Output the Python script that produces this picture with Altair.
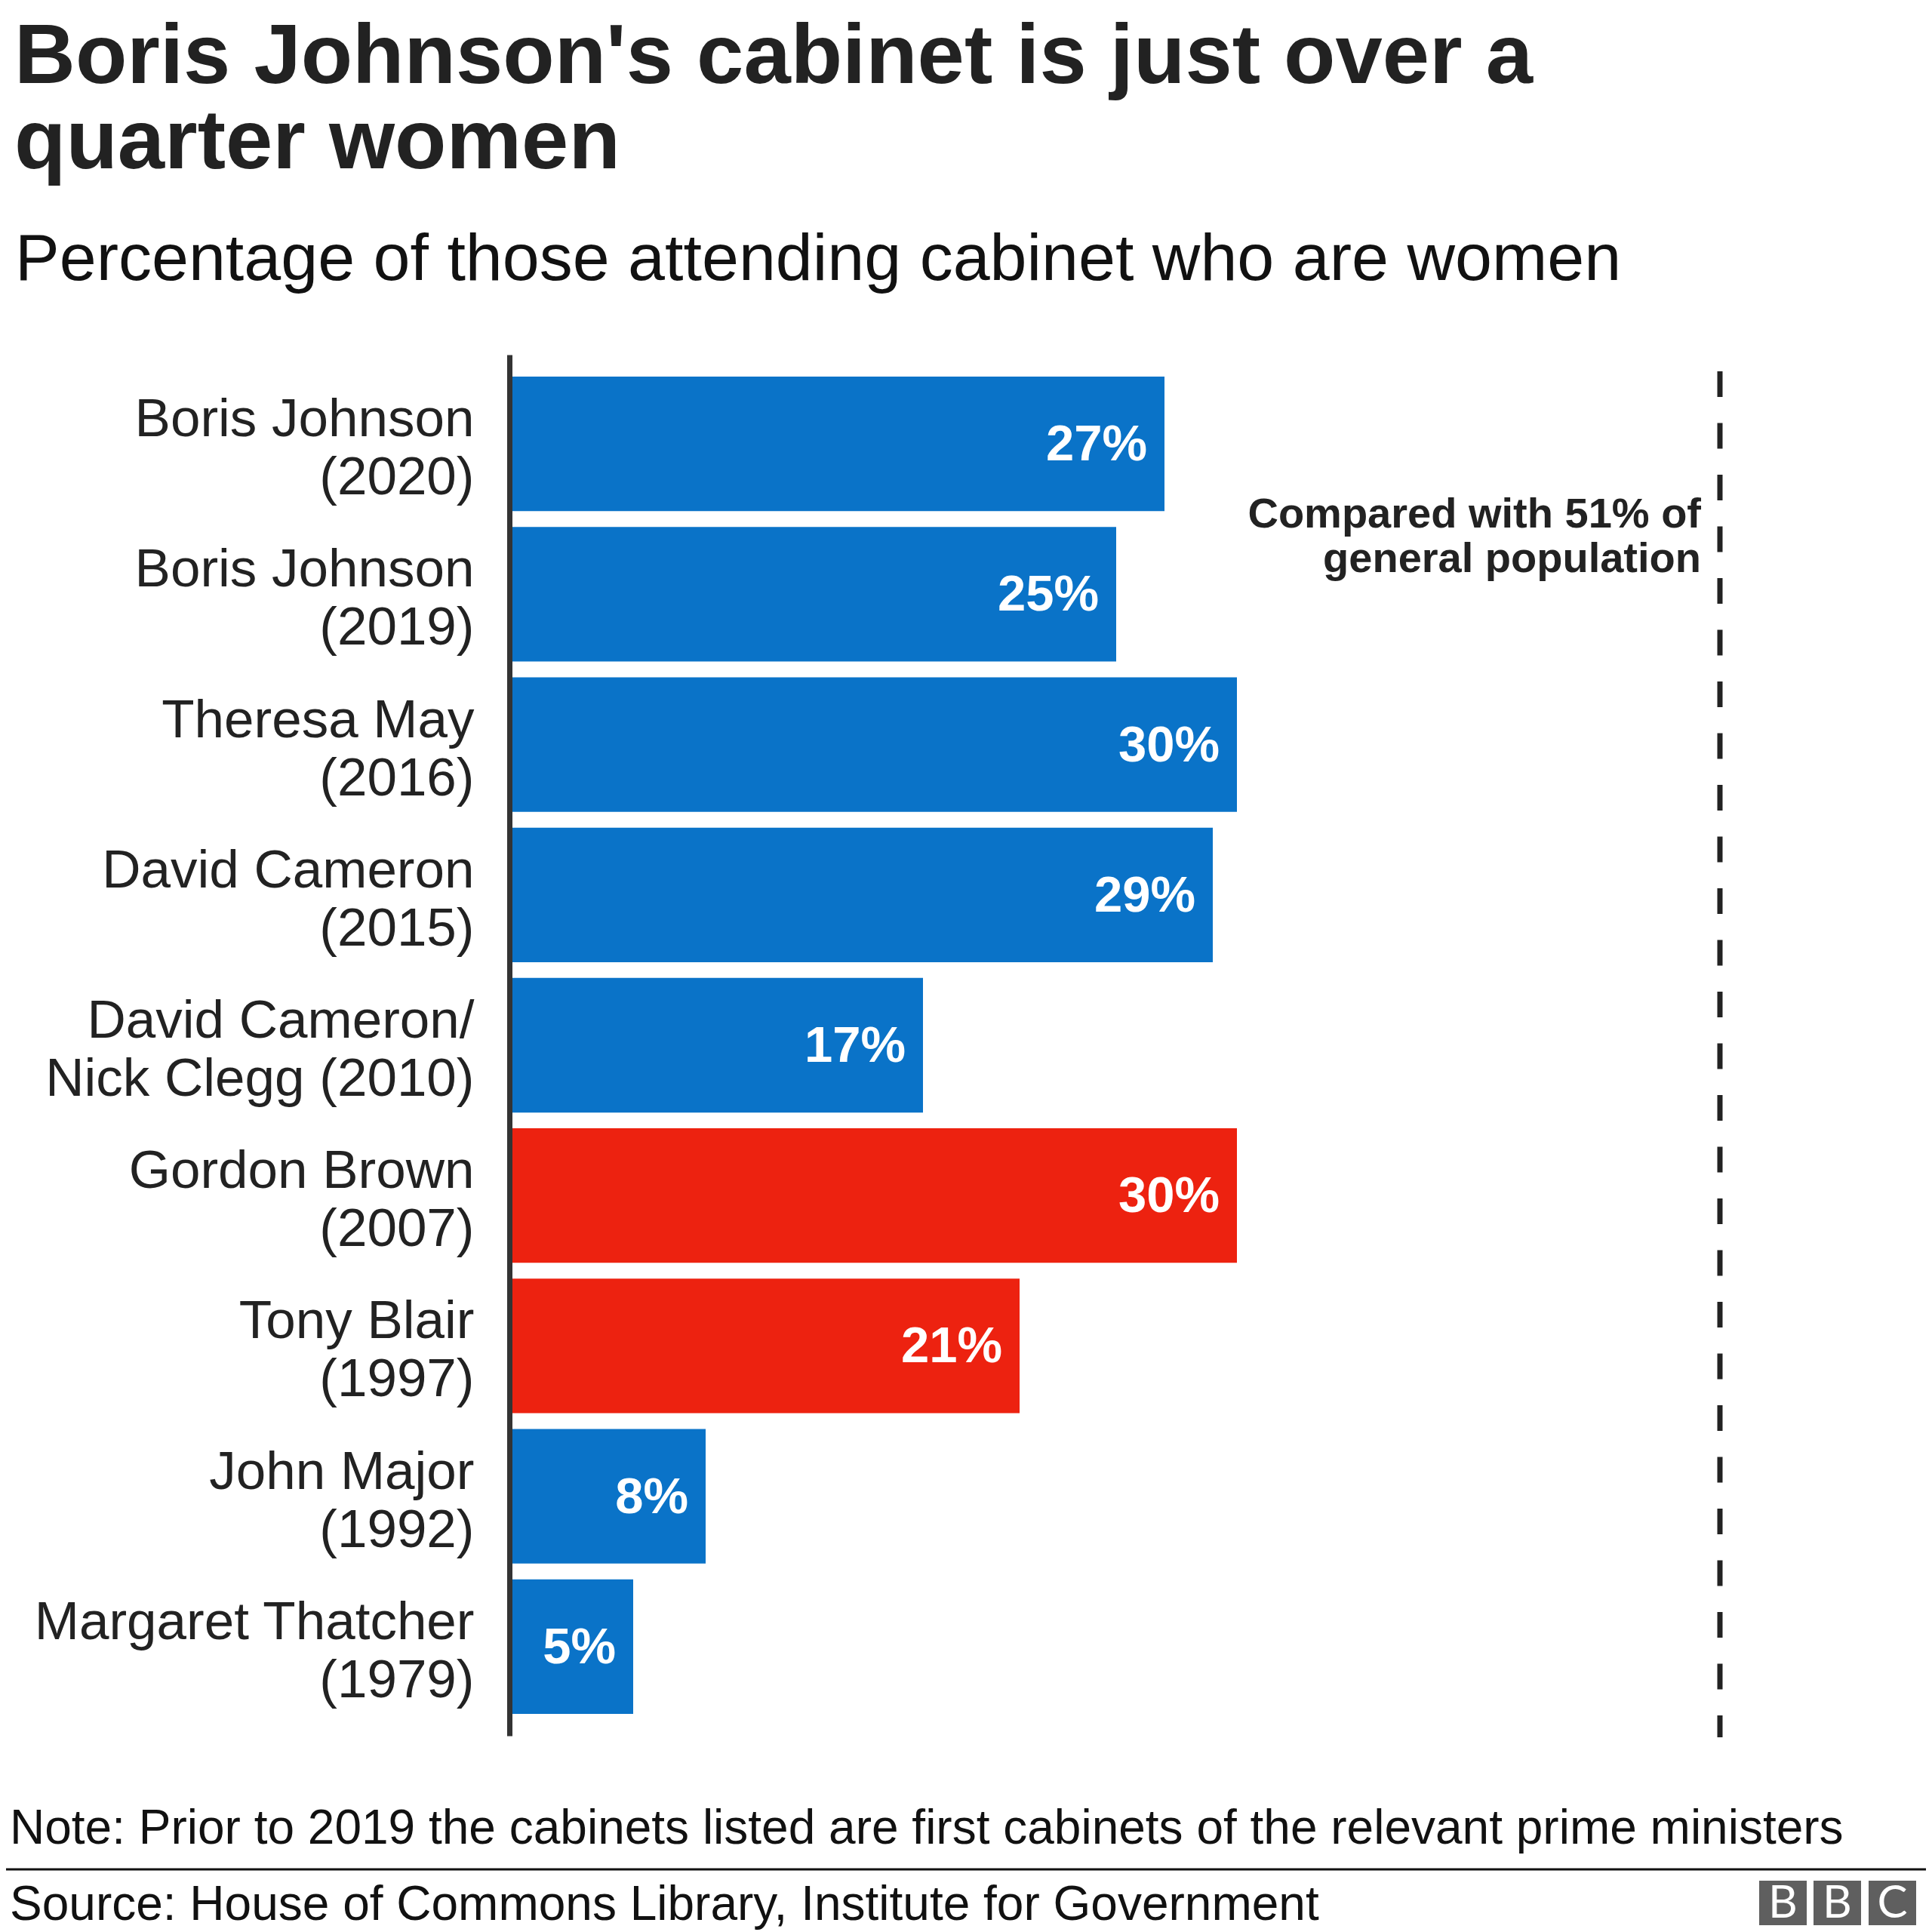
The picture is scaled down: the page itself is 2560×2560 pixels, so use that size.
import altair as alt
import pandas as pd

# ---- data ----
labels = [
    "Boris Johnson|(2020)",
    "Boris Johnson|(2019)",
    "Theresa May|(2016)",
    "David Cameron|(2015)",
    "David Cameron/|Nick Clegg (2010)",
    "Gordon Brown|(2007)",
    "Tony Blair|(1997)",
    "John Major|(1992)",
    "Margaret Thatcher|(1979)",
]
values = [27, 25, 30, 29, 17, 30, 21, 8, 5]
party = ["Conservative", "Conservative", "Conservative", "Conservative", "Conservative",
         "Labour", "Labour", "Conservative", "Conservative"]
reference_line = [50]  # dashed reference line as drawn
annotation_lines = ["Compared with 51% of", "general population"]

title_lines = ["Boris Johnson's cabinet is just over a", "quarter women"]
subtitle_text = "Percentage of those attending cabinet who are women"
note_text = "Note: Prior to 2019 the cabinets listed are first cabinets of the relevant prime ministers"
source_text = "Source: House of Commons Library, Institute for Government"
logo_letters = ["B", "B", "C"]

FONT = "Liberation Sans"
BLUE = "#0a73c8"
RED = "#ed2210"
INK = "#222222"

df = pd.DataFrame({"pm": labels, "pct": values, "party": party})
df["lbl"] = df["pct"].astype(str) + "%"
one = pd.DataFrame({"k": [0]})
ref_df = pd.DataFrame({"ref": reference_line})

x_scale = alt.Scale(domain=[0, 55])
x_enc = alt.X("pct:Q", scale=x_scale, axis=None)
y_enc = alt.Y(
    "pm:N",
    sort=labels,
    title=None,
    scale=alt.Scale(paddingInner=0.105, paddingOuter=0.146),
    axis=alt.Axis(
        labelExpr="split(datum.label, '|')",
        labelFont=FONT,
        labelFontSize=71,
        labelLineHeight=77,
        labelColor=INK,
        labelPadding=47,
        labelAlign="right",
        labelBaseline="middle",
        labelOffset=-31,
        labelLimit=0,
        ticks=False,
        tickSize=0,
        grid=False,
        domain=True,
        domainColor="#333333",
        domainWidth=7,
        offset=4,
    ),
)

bars = alt.Chart(df).mark_bar().encode(
    x=x_enc,
    y=y_enc,
    color=alt.Color(
        "party:N",
        scale=alt.Scale(domain=["Conservative", "Labour"], range=[BLUE, RED]),
        legend=None,
    ),
)

bar_text = alt.Chart(df).mark_text(
    align="right", baseline="middle", dx=-23, dy=2,
    font=FONT, fontWeight="bold", fontSize=67, color="white",
).encode(x=x_enc, y=alt.Y("pm:N", sort=labels), text="lbl:N")

ref_rule = alt.Chart(ref_df).mark_rule(
    color=INK, strokeWidth=7, strokeDash=[34, 34.5]
).encode(x=alt.X("ref:Q", scale=x_scale), y=alt.value(22), y2=alt.value(1832))

annot = alt.Chart(ref_df).mark_text(
    text=annotation_lines, align="right", baseline="alphabetic", dx=-25,
    font=FONT, fontWeight="bold", fontSize=56, lineHeight=59, color=INK,
).encode(x=alt.X("ref:Q", scale=x_scale), y=alt.value(229))

title_t = alt.Chart(one).mark_text(
    text=title_lines, align="left", baseline="alphabetic",
    font=FONT, fontWeight="bold", fontSize=112, lineHeight=113, color=INK,
).encode(x=alt.value(-660), y=alt.value(-360))

subtitle_t = alt.Chart(one).mark_text(
    text=subtitle_text, align="left", baseline="alphabetic",
    font=FONT, fontSize=88, color="#111111",
).encode(x=alt.value(-659), y=alt.value(-99))

note_t = alt.Chart(one).mark_text(
    text=note_text, align="left", baseline="alphabetic",
    font=FONT, fontSize=64, color="#111111",
).encode(x=alt.value(-666), y=alt.value(1973))

sep = alt.Chart(one).mark_rule(color="#111111", strokeWidth=3).encode(
    x=alt.value(-671), x2=alt.value(1873), y=alt.value(2007)
)

source_t = alt.Chart(one).mark_text(
    text=source_text, align="left", baseline="alphabetic",
    font=FONT, fontSize=64, color="#111111",
).encode(x=alt.value(-666), y=alt.value(2074))

logo_layers = []
box_lefts = [1652, 1724, 1797]
for left, letter in zip(box_lefts, logo_letters):
    logo_layers.append(
        alt.Chart(one).mark_rect(color="#5f5f5f").encode(
            x=alt.value(left), x2=alt.value(left + 63), y=alt.value(2022), y2=alt.value(2081)
        )
    )
    logo_layers.append(
        alt.Chart(one).mark_text(
            text=letter, align="center", baseline="middle", font="Lato",
            fontSize=60, color="white",
        ).encode(x=alt.value(left + 31.5), y=alt.value(2053))
    )

chart = alt.layer(
    bars, bar_text, ref_rule, annot, title_t, subtitle_t, note_t, sep, source_t, *logo_layers
).properties(
    width=1760,
    height=1830,
    padding={"left": 671, "top": 462, "right": 113, "bottom": 260},
    autosize=alt.AutoSizeParams(type="none"),
    background="white",
).configure_view(stroke=None)

chart.save("out.html", embed_options={"renderer": "svg", "actions": False})
